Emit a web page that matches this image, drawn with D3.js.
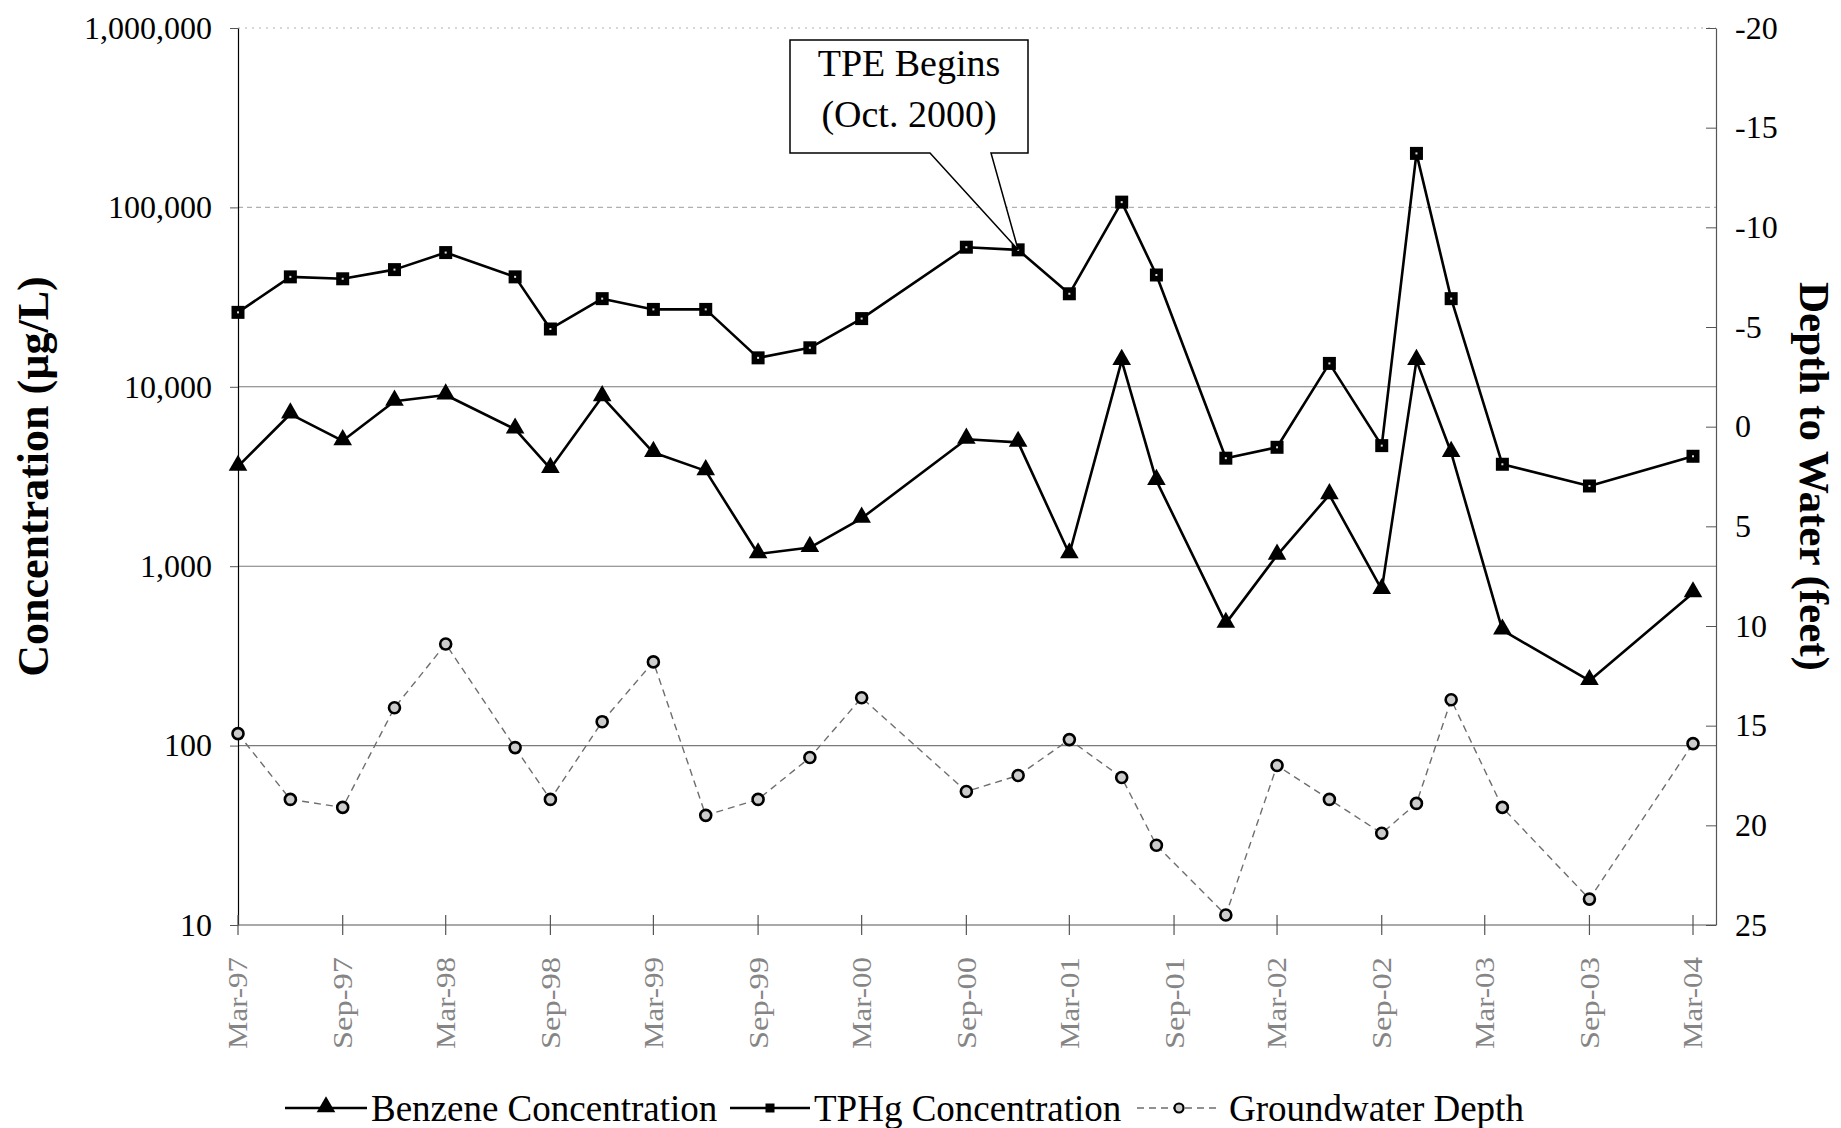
<!DOCTYPE html>
<html>
<head>
<meta charset="utf-8">
<script src="https://cdn.jsdelivr.net/npm/d3@7"></script>
<style>
  body { margin: 0; background: #fff; }
  svg { display: block; }
  text { font-family: "Liberation Serif", "Times New Roman", serif; fill: #000; }
</style>
</head>
<body>
<svg id="chart" width="1841" height="1128"></svg>
<script>
// Sampling events (year-month)
const sampleDates = [
  "1997-03","1997-06","1997-09","1997-12","1998-03","1998-07","1998-09","1998-12",
  "1999-03","1999-06","1999-09","1999-12","2000-03","2000-09","2000-12","2001-03",
  "2001-06","2001-08","2001-12","2002-03","2002-06","2002-09","2002-11","2003-01",
  "2003-04","2003-09","2004-03"
];
// Benzene concentration (µg/L)
const benzene = [
  3600, 7050, 5000, 8300, 9000, 5800, 3500, 8800,
  4300, 3400, 1170, 1270, 1850, 5100, 4900, 1170,
  14000, 3000, 480, 1150, 2500, 740, 14000, 4300,
  440, 230, 710
];
// TPHg concentration (µg/L)
const tphg = [
  26000, 41000, 40000, 45000, 56000, 41000, 21000, 31000,
  27000, 27000, 14500, 16500, 24000, 60000, 58000, 33000,
  107000, 42000, 4000, 4600, 13500, 4700, 200000, 31000,
  3700, 2800, 4100
];
// Depth to groundwater (feet)
const gwDepth = [
  15.4, 18.7, 19.1, 14.1, 10.9, 16.1, 18.7, 14.8,
  11.8, 19.5, 18.7, 16.6, 13.6, 18.3, 17.5, 15.7,
  17.6, 21.0, 24.5, 17.0, 18.7, 20.4, 18.9, 13.7,
  19.1, 23.7, 15.9
];
const concTicks = [10, 100, 1000, 10000, 100000, 1000000];
const depthTicks = [-20, -15, -10, -5, 0, 5, 10, 15, 20, 25];
const xTickDates = [
  "1997-03","1997-09","1998-03","1998-09","1999-03","1999-09","2000-03","2000-09",
  "2001-03","2001-09","2002-03","2002-09","2003-03","2003-09","2004-03"
];
const tpeDate = "2000-12";
const tpeLines = ["TPE Begins", "(Oct. 2000)"];
const legendItems = ["Benzene Concentration", "TPHg Concentration", "Groundwater Depth"];

const parseMonth = d3.timeParse("%Y-%m");
const fmtMonth = d3.timeFormat("%b-%y");

const svg = d3.select("#chart");
const plot = { left: 238, right: 1716, top: 28, bottom: 925 };

const x = d3.scaleTime()
  .domain([parseMonth("1997-03"), parseMonth("2004-03")])
  .range([plot.left, 1693]);
const yConc = d3.scaleLog().domain([10, 1e6]).range([plot.bottom, plot.top]);
const yDepth = d3.scaleLinear().domain([25, -20]).range([plot.bottom, plot.top]);

const dates = sampleDates.map(parseMonth);

// horizontal gridlines at each decade
svg.append("g").selectAll("line")
  .data(concTicks.filter(d => d > 10))
  .join("line")
  .attr("x1", plot.left).attr("x2", plot.right)
  .attr("y1", d => yConc(d)).attr("y2", d => yConc(d))
  .attr("stroke", d => d >= 1e5 ? "#b0b0b0" : "#7a7a7a")
  .attr("stroke-width", 1.1)
  .attr("stroke-dasharray", d => d === 1e6 ? "2,5" : (d === 1e5 ? "5,4" : null));

// left axis (log concentration)
const leftAxis = svg.append("g")
  .attr("transform", `translate(${plot.left},0)`)
  .call(d3.axisLeft(yConc).tickValues(concTicks).tickFormat(d3.format(","))
    .tickSizeInner(8).tickSizeOuter(0).tickPadding(18));
leftAxis.select(".domain").attr("stroke", "#000").attr("stroke-width", 1.2);
leftAxis.selectAll(".tick line").attr("stroke", "#555");
leftAxis.selectAll("text").style("font-size", "32px").attr("fill", "#000");

// right axis (depth to water), hyphen-minus labels
const rightAxis = svg.append("g")
  .attr("transform", `translate(${plot.right},0)`)
  .call(d3.axisRight(yDepth).tickValues(depthTicks).tickFormat(d => String(d))
    .tickSizeInner(-10).tickSizeOuter(0).tickPadding(19));
rightAxis.select(".domain").attr("stroke", "#555").attr("stroke-width", 1.2);
rightAxis.selectAll(".tick line").attr("stroke", "#555");
rightAxis.selectAll("text").style("font-size", "32px").attr("fill", "#000");

// bottom axis: baseline with ticks crossing it
const xTicks = xTickDates.map(parseMonth);
svg.append("line")
  .attr("x1", plot.left).attr("x2", plot.right)
  .attr("y1", plot.bottom).attr("y2", plot.bottom)
  .attr("stroke", "#555").attr("stroke-width", 1.2);
svg.append("g").selectAll("line")
  .data(xTicks)
  .join("line")
  .attr("x1", d => x(d)).attr("x2", d => x(d))
  .attr("y1", plot.bottom - 10).attr("y2", plot.bottom + 10)
  .attr("stroke", "#555").attr("stroke-width", 1.2);
svg.append("g").selectAll("text")
  .data(xTicks)
  .join("text")
  .attr("transform", d => `translate(${x(d)},${plot.bottom + 32}) rotate(-90)`)
  .attr("text-anchor", "end")
  .attr("dy", "0.35em")
  .attr("textLength", 92)
  .attr("lengthAdjust", "spacingAndGlyphs")
  .style("font-size", "27px")
  .style("fill", "#858585")
  .text(d => fmtMonth(d));

// axis titles
svg.append("text")
  .attr("transform", `translate(33,${(plot.top + plot.bottom) / 2}) rotate(-90)`)
  .attr("text-anchor", "middle").attr("dy", "0.35em")
  .style("font-size", "44px").style("font-weight", "bold")
  .text("Concentration (µg/L)");
svg.append("text")
  .attr("transform", `translate(1815,${(plot.top + plot.bottom) / 2}) rotate(90)`)
  .attr("text-anchor", "middle").attr("dy", "0.35em")
  .style("font-size", "43px").style("font-weight", "bold")
  .text("Depth to Water (feet)");

// groundwater depth: dashed gray line with ring markers
const gwLine = d3.line().x((d, i) => x(dates[i])).y(d => yDepth(d));
svg.append("path").datum(gwDepth)
  .attr("d", gwLine).attr("fill", "none")
  .attr("stroke", "#6e6e6e").attr("stroke-width", 1.4)
  .attr("stroke-dasharray", "7,5");

// concentration lines
const concLine = d3.line().x((d, i) => x(dates[i])).y(d => yConc(d));
svg.append("path").datum(tphg)
  .attr("d", concLine).attr("fill", "none")
  .attr("stroke", "#000").attr("stroke-width", 2.6).attr("stroke-linejoin", "round");
svg.append("path").datum(benzene)
  .attr("d", concLine).attr("fill", "none")
  .attr("stroke", "#000").attr("stroke-width", 2.6).attr("stroke-linejoin", "round");

const tri = d3.symbol().type(d3.symbolTriangle).size(150);

function drawTriangle(g, cx, cy) {
  g.append("path").attr("d", tri()).attr("transform", `translate(${cx},${cy - 1})`).attr("fill", "#000");
}
function drawSquare(g, cx, cy) {
  g.append("rect").attr("x", cx - 6.5).attr("y", cy - 6.5).attr("width", 13).attr("height", 13).attr("fill", "#000");
  g.append("rect").attr("x", cx - 1).attr("y", cy - 1).attr("width", 2).attr("height", 2).attr("fill", "#ddd");
}
function drawRing(g, cx, cy) {
  g.append("circle").attr("cx", cx).attr("cy", cy).attr("r", 5.5)
    .attr("fill", "#ccc").attr("stroke", "#000").attr("stroke-width", 2.6);
}

const marks = svg.append("g");
gwDepth.forEach((d, i) => drawRing(marks, x(dates[i]), yDepth(d)));
tphg.forEach((d, i) => drawSquare(marks, x(dates[i]), yConc(d)));
benzene.forEach((d, i) => drawTriangle(marks, x(dates[i]), yConc(d)));

// callout for start of TPE
const tpeIdx = sampleDates.indexOf(tpeDate);
const tx = x(dates[tpeIdx]), ty = yConc(tphg[tpeIdx]);
const box = { x0: 790, y0: 40, x1: 1028, y1: 153 };
const call = svg.append("g");
call.append("path")
  .attr("d", `M${box.x0},${box.y0}H${box.x1}V${box.y1}H991L${tx},${ty}L930,${box.y1}H${box.x0}Z`)
  .attr("fill", "#fff").attr("stroke", "#000").attr("stroke-width", 1.5);
call.selectAll("text").data(tpeLines).join("text")
  .attr("x", (box.x0 + box.x1) / 2)
  .attr("y", (d, i) => 76 + i * 51)
  .attr("text-anchor", "middle")
  .style("font-size", "38px")
  .text(d => d);

// legend
const legY = 1108;
const leg = svg.append("g");
const legSpec = [
  { x0: 285, x1: 367, tx: 371, kind: "tri" },
  { x0: 730, x1: 810, tx: 814, kind: "sq" },
  { x0: 1137, x1: 1221, tx: 1229, kind: "ring" }
];
legSpec.forEach((s, i) => {
  const ln = leg.append("line")
    .attr("x1", s.x0).attr("x2", s.x1).attr("y1", legY).attr("y2", legY);
  if (s.kind === "ring") {
    ln.attr("stroke", "#6e6e6e").attr("stroke-width", 1.4).attr("stroke-dasharray", "7,5");
  } else {
    ln.attr("stroke", "#000").attr("stroke-width", 2.4);
  }
  const cx = (s.x0 + s.x1) / 2;
  if (s.kind === "tri") drawTriangle(leg, cx, legY);
  else if (s.kind === "sq") {
    leg.append("rect").attr("x", cx - 4.5).attr("y", legY - 4.5).attr("width", 9).attr("height", 9).attr("fill", "#000");
  } else {
    leg.append("circle").attr("cx", cx).attr("cy", legY).attr("r", 4.5)
      .attr("fill", "#ccc").attr("stroke", "#000").attr("stroke-width", 2.2);
  }
  leg.append("text").attr("x", s.tx).attr("y", legY + 13)
    .style("font-size", "37px").text(legendItems[i]);
});
</script>
</body>
</html>
